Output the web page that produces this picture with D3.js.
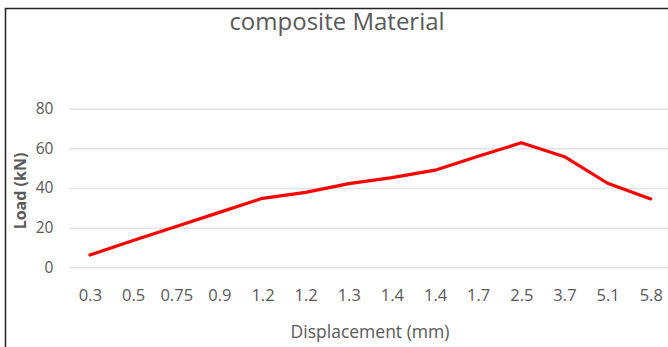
<!DOCTYPE html>
<html>
<head>
<meta charset="utf-8">
<script src="https://cdn.jsdelivr.net/npm/d3@7"></script>
<style>
  html, body { margin: 0; padding: 0; background: #fff; }
  svg { display: block; }
  text { font-family: "Open Sans", "Liberation Sans", sans-serif; fill: #595959; }
</style>
</head>
<body>
<svg id="chart" width="668" height="347"></svg>
<script>
// Displacement categories (mm) and measured load (kN)
const displacement = ["0.3", "0.5", "0.75", "0.9", "1.2", "1.2", "1.3", "1.4", "1.4", "1.7", "2.5", "3.7", "5.1", "5.8"];
const load = [6.2, 13.5, 20.6, 27.7, 34.8, 37.8, 42.2, 45.2, 49.0, 56.0, 62.8, 55.8, 42.4, 34.5];
const yTicks = [0, 20, 40, 60, 80];

const svg = d3.select("#chart");
const W = 668, H = 347;
const plot = { left: 68.4, right: 672.3, top: 108.7, bottom: 267.3 };

// Frame lines along the top and left edges
svg.append("path")
  .attr("d", `M5.5,${H} V8.5 H${W}`)
  .attr("fill", "none")
  .attr("stroke", "#222")
  .attr("stroke-width", 1.5);

const idx = displacement.map((d, i) => i);
const x = d3.scalePoint().domain(idx).range([plot.left, plot.right]).padding(0.5);
const y = d3.scaleLinear().domain([0, 80]).range([plot.bottom, plot.top]);

// Horizontal gridlines with value labels
const yAxis = d3.axisLeft(y).tickValues(yTicks).tickSize(-(W - plot.left)).tickPadding(15);
const gy = svg.append("g").attr("transform", `translate(${plot.left},0)`).call(yAxis);
gy.select(".domain").remove();
gy.selectAll(".tick line").attr("stroke", "#e3e3e3").attr("stroke-width", 1.5).attr("x1", 1);
gy.selectAll(".tick text").attr("font-size", 15.5).style("fill", "#595959").attr("font-family", null);

// Category labels along the bottom
const xAxis = d3.axisBottom(x).tickFormat(i => displacement[i]).tickSize(0).tickPadding(22);
const gx = svg.append("g").attr("transform", `translate(0,${plot.bottom})`).call(xAxis);
gx.select(".domain").remove();
gx.selectAll(".tick text").attr("font-size", 16.5).style("fill", "#595959").attr("font-family", null);

// Load curve
const line = d3.line().x((d, i) => x(i)).y(d => y(d));
svg.append("path")
  .datum(load)
  .attr("d", line)
  .attr("fill", "none")
  .attr("stroke", "#ff0000")
  .attr("stroke-width", 3.2)
  .attr("stroke-linejoin", "round")
  .attr("stroke-linecap", "round");

// Titles
svg.append("text")
  .attr("x", 337).attr("y", 30)
  .attr("text-anchor", "middle")
  .attr("font-size", 24)
  .text("composite Material");

svg.append("text")
  .attr("x", 370).attr("y", 338)
  .attr("text-anchor", "middle")
  .attr("font-size", 17.5)
  .text("Displacement (mm)");

svg.append("text")
  .attr("transform", "translate(26,191) rotate(-90)")
  .attr("text-anchor", "middle")
  .attr("font-size", 16)
  .attr("font-weight", "bold")
  .text("Load (kN)");
</script>
</body>
</html>
